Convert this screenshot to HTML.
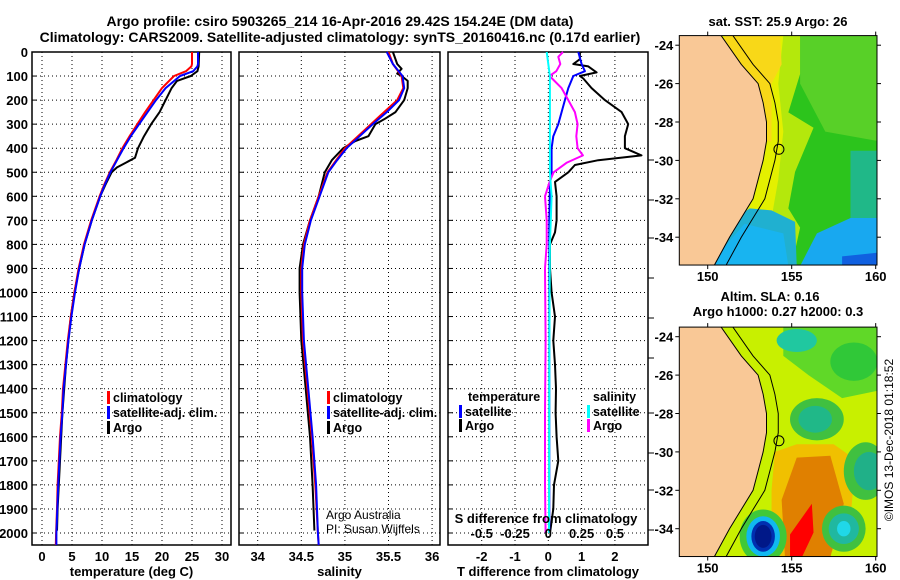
<!DOCTYPE html>
<html><head><meta charset="utf-8">
<style>
html,body{margin:0;padding:0;background:#fff;}
svg{display:block;font-family:"Liberation Sans",Arial,sans-serif;}
.b{font-weight:bold;}
</style></head>
<body>
<svg id="s" width="900" height="580" viewBox="0 0 900 580" xmlns="http://www.w3.org/2000/svg">
<rect width="900" height="580" fill="#fff"/>
<text x="340" y="26" text-anchor="middle" class="b" font-size="14">Argo profile: csiro 5903265_214 16-Apr-2016 29.42S 154.24E (DM data)</text>
<text x="340" y="42" text-anchor="middle" class="b" font-size="14">Climatology: CARS2009. Satellite-adjusted climatology: synTS_20160416.nc (0.17d earlier)</text>
<g id="plots"></g>
<g id="maps"></g>
<text transform="translate(893,440) rotate(-90)" text-anchor="middle" font-size="12">©IMOS 13-Dec-2018 01:18:52</text>
</svg>
<script>
// ---------- data ----------
const depthTicks=[0,100,200,300,400,500,600,700,800,900,1000,1100,1200,1300,1400,1500,1600,1700,1800,1900,2000];
const tempTicks=[0,5,10,15,20,25,30];
const salTicks=[34,34.5,35,35.5,36];
const tdiffTicks=[-2,-1,0,1,2];
const sdiffTicks=[-0.5,-0.25,0,0.25,0.5];
const sdiffTickLabels=["-0.5","-0.25","0","0.25","0.5"];

const tArgoDepth=[0,60,80,100,120,150,200,250,300,350,400,440,460,480,500,550,600,700,800,900,1000,1100,1200,1300,1400,1500,1600,1700,1800,1900,1990];
const tArgo=[26.2,26.1,25.9,24.8,22.5,21.6,20.6,19.6,18.2,17.0,16.0,15.5,14.0,12.5,11.6,10.6,9.7,8.3,7.1,6.2,5.4,4.8,4.4,4.0,3.7,3.4,3.2,3.0,2.8,2.6,2.5];
const tClimDepth=[0,50,60,80,100,150,200,250,300,350,400,450,500,550,600,700,800,900,1000,1100,1200,1300,1400,1500,1600,1700,1800,1900,2000,2050];
const tClim=[25.0,25.0,24.9,24.0,22.0,20.0,18.6,17.2,15.9,14.6,13.4,12.4,11.3,10.4,9.6,8.2,7.0,6.1,5.4,4.8,4.3,3.9,3.5,3.3,3.0,2.8,2.6,2.5,2.35,2.3];
const tSat=[26.0,26.0,25.9,25.2,23.0,20.6,19.0,17.6,16.2,14.8,13.6,12.5,11.4,10.5,9.7,8.3,7.1,6.2,5.5,4.9,4.4,4.0,3.6,3.4,3.1,2.9,2.7,2.55,2.4,2.4];

const sArgoDepth=[0,50,70,90,100,120,150,200,250,280,300,350,370,400,450,500,600,700,800,850,900,1000,1200,1400,1600,1800,1990];
const sArgo=[35.55,35.6,35.65,35.6,35.65,35.72,35.72,35.68,35.58,35.45,35.35,35.27,35.12,34.98,34.85,34.77,34.7,34.6,34.52,34.5,34.48,34.48,34.5,34.55,34.6,34.63,34.65];
const sClimDepth=[0,50,100,150,200,250,300,350,400,450,500,600,700,800,900,1000,1200,1400,1600,1800,2000,2050];
const sClim=[35.5,35.55,35.65,35.67,35.6,35.45,35.3,35.15,35.0,34.9,34.8,34.7,34.6,34.53,34.5,34.5,34.52,34.57,34.62,34.66,34.69,34.7];
const sSat=[35.48,35.55,35.66,35.68,35.62,35.48,35.32,35.17,35.02,34.91,34.81,34.71,34.61,34.54,34.51,34.51,34.53,34.58,34.63,34.67,34.69,34.7];

const dTDepth=[0,30,50,60,85,100,110,150,200,250,300,350,400,430,450,470,500,540,600,700,750,800,900,1000,1100,1200,1300,1400,1500,1600,1700,1800,1900,2000];
const dTArgo=[0.95,0.95,0.75,1.2,1.45,0.95,1.05,1.3,1.7,2.2,2.4,2.3,2.3,2.8,1.5,0.8,0.6,0.2,0.25,0.25,0.2,0.05,0.05,0.1,0.2,0.15,0.2,0.23,0.22,0.25,0.3,0.17,0.15,0.05];
const dTSatDepth=[0,50,80,100,150,200,250,300,350,400,500,550,700,1000,1500,2000];
const dTSat=[0.9,1.0,1.1,0.75,0.6,0.5,0.4,0.3,0.15,0.1,0.1,0.05,0.03,0.03,0.03,0.03];
const dSDepth=[0,20,50,80,100,150,200,250,300,350,400,430,460,500,540,600,700,800,900,1200,1500,1800,2000];
const dSArgo=[0.11,0.075,0.09,0.06,0.01,0.1,0.15,0.2,0.22,0.21,0.22,0.26,0.14,0.04,0.01,-0.025,-0.012,-0.012,-0.025,-0.02,-0.025,-0.025,-0.02];
const dSSatDepth=[0,100,300,500,600,800,1200,2000];
const dSSat=[-0.012,0.012,0.012,0.012,0.025,0.012,0.008,0.005];

// ---------- helpers ----------
const NS="http://www.w3.org/2000/svg";
const plots=document.getElementById('plots');
const maps=document.getElementById('maps');
function mk(tag,attrs,parent,txt){const e=document.createElementNS(NS,tag);for(const k in attrs)e.setAttribute(k,attrs[k]);if(txt!==undefined)e.textContent=txt;(parent||plots).appendChild(e);return e;}
const Y0=52,Y1=545;
function yD(d){return Y0+d*0.2405;}

function panel(name,x0,x1,xf,ticks,labels,xtitle,showDepth){
  const g=mk('g',{},plots);
  
  
  ticks.forEach((t,i)=>{
    const x=xf(t);
    const l=mk('line',{x1:x,x2:x,y1:Y0,y2:Y1,stroke:'#000','stroke-width':1,'stroke-dasharray':'1,3'},g);
    
    
    const tl=mk('text',{x:x,y:561,'text-anchor':'middle','font-size':13,'font-weight':'bold'},g,labels[i]);
    
    
  });
  depthTicks.forEach(d=>{
    const y=yD(d);
    const l=mk('line',{x1:x0,x2:x1,y1:y,y2:y,stroke:'#000','stroke-width':1,'stroke-dasharray':'1,3'},g);
    
    
    mk('line',{x1:x0,x2:x0+5,y1:y,y2:y,stroke:'#000'},g);
    if(showDepth){
      const tl=mk('text',{x:28,y:y+5,'text-anchor':'end','font-size':13,'font-weight':'bold'},g,String(d));
      
      
    }
  });
  const r=mk('rect',{x:x0,y:Y0,width:x1-x0,height:Y1-Y0,fill:'none',stroke:'#000','stroke-width':1.5},g);
  
  
  const t=mk('text',{x:(x0+x1)/2,y:576,'text-anchor':'middle','font-size':13,'font-weight':'bold'},g,xtitle);
  
  
  return g;
}
function line(g,name,xs,ds,xf,color){
  const pts=xs.map((v,i)=>xf(v).toFixed(1)+','+yD(ds[i]).toFixed(1));
  const p=mk('polyline',{points:pts.join(' '),fill:'none',stroke:color,'stroke-width':2,'stroke-linejoin':'round'},g);
  
  
}
function legItem(g,x,y,color,label){
  mk('rect',{x:x,y:y-11,width:3,height:13,fill:color},g);
  const t=mk('text',{x:x+6,y:y,'font-size':12.5,'font-weight':'bold'},g,label);
  
  
}

// Panel 1: temperature
const xT=t=>42+t*6.0;
const g1=panel('temperature-panel',32,231,xT,tempTicks,tempTicks.map(String),'temperature (deg C)',true);
line(g1,'temp-argo-line',tArgo,tArgoDepth,xT,'#000');
line(g1,'temp-climatology-line',tClim,tClimDepth,xT,'#f00');
line(g1,'temp-satellite-line',tSat,tClimDepth,xT,'#00f');
legItem(g1,107,402,'#f00','climatology');
legItem(g1,107,417,'#00f','satellite-adj. clim.');
legItem(g1,107,432,'#000','Argo');

// Panel 2: salinity
const xS=s=>257.7+(s-34)*87.2;
const g2=panel('salinity-panel',239,440,xS,salTicks,salTicks.map(String),'salinity',false);
line(g2,'sal-argo-line',sArgo,sArgoDepth,xS,'#000');
line(g2,'sal-climatology-line',sClim,sClimDepth,xS,'#f00');
line(g2,'sal-satellite-line',sSat,sClimDepth,xS,'#00f');
legItem(g2,327,402,'#f00','climatology');
legItem(g2,327,417,'#00f','satellite-adj. clim.');
legItem(g2,327,432,'#000','Argo');
const a1=mk('text',{x:326,y:519,'font-size':12},g2,'Argo Australia');


const a2=mk('text',{x:326,y:533,'font-size':12},g2,'PI: Susan Wijffels');



// Panel 3: differences
const xDT=v=>548.3+v*33.3;
const xDS=v=>548.3+v*4*33.3;
const g3=panel('difference-panel',448,648,xDT,tdiffTicks,tdiffTicks.map(String),'T difference from climatology',false);
[413,453,490,530,160,200,238,278,318,358].forEach(y=>mk('line',{x1:648,x2:654,y1:y,y2:y,stroke:'#000'},g3));
line(g3,'tdiff-argo-line',dTArgo,dTDepth,xDT,'#000');
line(g3,'tdiff-satellite-line',dTSat,dTSatDepth,xDT,'#00f');
line(g3,'sdiff-argo-line',dSArgo,dSDepth,xDS,'#f0f');
line(g3,'sdiff-satellite-line',dSSat,dSSatDepth,xDS,'#0ff');
const lt=mk('text',{x:468,y:401,'font-size':12.5,'font-weight':'bold'},g3,'temperature');


legItem(g3,459,416,'#00f','satellite');
legItem(g3,459,430,'#000','Argo');
const ls=mk('text',{x:593,y:401,'font-size':12.5,'font-weight':'bold'},g3,'salinity');


legItem(g3,587,416,'#0ff','satellite');
legItem(g3,587,430,'#f0f','Argo');
const st=mk('text',{x:546,y:523,'text-anchor':'middle','font-size':13,'font-weight':'bold'},g3,'S difference from climatology');


sdiffTicks.forEach((v,i)=>{
  const t=mk('text',{x:xDS(v),y:538,'text-anchor':'middle','font-size':13,'font-weight':'bold'},g3,sdiffTickLabels[i]);
  
  
});

// ---------- maps ----------
const mapLats=[-24,-26,-28,-30,-32,-34];
const mapLons=[150,155,160];
const coastLon=[150.8,152.0,153.0,153.3,153.5,153.5,153.3,153.0,152.7,152.0,151.3,150.4];
const coastLat=[-23.5,-25,-26,-27,-28,-29,-30,-31,-32,-33,-34,-35.45];
const MX0=679.3,MX1=877;
const lx=l=>707.7+(l-150)*16.8;
function drawMap(name,top,shapes,titles){
  const g=mk('g',{},maps);
  
  
  const ly=la=>top+(-24-la)*19.2;
  const yT=ly(-23.5),yB=ly(-35.45);
  const cid='clip'+name;
  const cp=mk('clipPath',{id:cid},g);mk('rect',{x:MX0,y:yT,width:MX1-MX0,height:yB-yT},cp);
  const inner=mk('g',{'clip-path':'url(#'+cid+')'},g);
  shapes(inner,lx,ly);
  let pts=[[MX0-5,yT-5]];
  coastLon.forEach((c,i)=>pts.push([lx(c),ly(coastLat[i])]));
  pts.push([MX0-5,yB+5]);
  const land=mk('polygon',{points:pts.map(p=>p.join(',')).join(' '),fill:'#f9c896',stroke:'#000','stroke-width':1},inner);
  
  
  const iso=coastLon.map((c,i)=>lx(c+0.7)+','+ly(coastLat[i])).join(' ');
  mk('polyline',{points:iso,fill:'none',stroke:'#000','stroke-width':1},inner);
  const c=mk('circle',{cx:lx(154.24),cy:ly(-29.42),r:5,fill:'none',stroke:'#000','stroke-width':1},g);
  
  
  mk('rect',{x:MX0,y:yT,width:MX1-MX0,height:yB-yT,fill:'none',stroke:'#000','stroke-width':1},g);
  mapLats.forEach(la=>{
    const y=ly(la);
    mk('line',{x1:MX0-4,x2:MX0,y1:y,y2:y,stroke:'#000'},g);
    mk('line',{x1:MX1,x2:MX1+4,y1:y,y2:y,stroke:'#000'},g);
    const t=mk('text',{x:MX0-6,y:y+5,'text-anchor':'end','font-size':13,'font-weight':'bold'},g,String(la));
    
    
  });
  mapLons.forEach(lo=>{
    const x=lx(lo);
    mk('line',{x1:x,x2:x,y1:yB,y2:yB+4,stroke:'#000'},g);
    mk('line',{x1:x,x2:x,y1:yT-4,y2:yT,stroke:'#000'},g);
    const t=mk('text',{x:x,y:yB+16,'text-anchor':'middle','font-size':13,'font-weight':'bold'},g,String(lo));
    
    
  });
  titles.forEach(tt=>{
    const t=mk('text',{x:tt[0],y:tt[1],'text-anchor':'middle','font-size':13,'font-weight':'bold'},g,tt[2]);
    
    
  });
}
function poly(g,pts,fill,lx,ly){return mk('polygon',{points:pts.map(p=>lx(p[0])+','+ly(p[1])).join(' '),fill:fill},g);}
function ell(g,lo,la,rx,ry,fill,lx,ly){return mk('ellipse',{cx:lx(lo),cy:ly(la),rx:rx*16.8,ry:ry*19.2,fill:fill},g);}

drawMap('sst-map',45.2,(g,lx,ly)=>{
  mk('rect',{x:600,y:0,width:300,height:300,fill:'#2cc41c'},g);
  poly(g,[[155.5,-23.5],[160.2,-23.5],[160.2,-29],[157,-28.5],[155.5,-26]],'#58d028',lx,ly);
  poly(g,[[150,-23.5],[155.5,-23.5],[155.5,-25.5],[154.8,-27.5],[156.3,-28.3],[155.2,-30.6],[154.8,-32.5],[155.5,-33.5],[155,-35.5],[150,-35.5]],'#b4e80c',lx,ly);
  poly(g,[[150,-23.5],[154.5,-23.5],[154.2,-26],[154.5,-28.5],[154.2,-31],[153.8,-33],[150,-33]],'#e4f000',lx,ly);
  poly(g,[[151,-23.5],[154.3,-23.5],[154.4,-25],[153.8,-26],[153.8,-29],[151,-29]],'#f8d818',lx,ly);
  poly(g,[[152.5,-32.5],[153.8,-32.6],[155.2,-33.2],[155.3,-35.5],[150,-35.5],[150,-34]],'#20b0d0',lx,ly);
  poly(g,[[152.2,-33.3],[154.5,-33.8],[154.8,-35.5],[150,-35.5]],'#18b4f0',lx,ly);
  poly(g,[[156.5,-33.8],[158.5,-33],[160.2,-32.8],[160.2,-35.5],[155.5,-35.5]],'#18a8f0',lx,ly);
  poly(g,[[158.5,-29.5],[160.2,-29.5],[160.2,-33],[158.5,-33]],'#20b888',lx,ly);
  poly(g,[[158,-35],[160.2,-34.8],[160.2,-35.5],[158,-35.5]],'#1060e0',lx,ly);
},[[778,26,'sat. SST: 25.9 Argo: 26']]);

drawMap('sla-map',336.7,(g,lx,ly)=>{
  mk('rect',{x:600,y:300,width:300,height:300,fill:'#c8f000'},g);
  poly(g,[[154.5,-23.5],[160.2,-23.5],[160.2,-26.8],[158,-27.2],[156,-26],[154.5,-25]],'#60d828',lx,ly);
  ell(g,155.3,-24.2,1.2,0.6,'#20c8a0',lx,ly);
  ell(g,158.7,-25.3,1.4,1.0,'#30c838',lx,ly);
  ell(g,156.5,-28.3,1.6,1.1,'#40c040',lx,ly);
  ell(g,156.4,-28.3,1.0,0.7,'#20b888',lx,ly);
  poly(g,[[154,-30],[155.3,-29.6],[157.5,-29.6],[158.8,-30.4],[158.5,-33.5],[157.2,-35.5],[153.8,-35.5],[153.8,-32]],'#f0c000',lx,ly);
  poly(g,[[154.6,-35.5],[154.4,-32.5],[155.3,-30.3],[157.3,-30.2],[158.1,-32.7],[157.3,-35.5]],'#e08000',lx,ly);
  poly(g,[[154.9,-35.5],[154.9,-34.3],[156.2,-32.7],[156.3,-34.2],[155.6,-35.5]],'#ff0000',lx,ly);
  ell(g,159.4,-31,1.3,1.5,'#40c040',lx,ly);
  ell(g,159.6,-31,0.9,1.0,'#20b088',lx,ly);
  ell(g,158.1,-34,1.3,1.2,'#40c040',lx,ly);
  ell(g,158.1,-34,0.9,0.8,'#20b8a0',lx,ly);
  ell(g,158.1,-34,0.4,0.4,'#20d8e8',lx,ly);
  ell(g,153.3,-34.4,1.4,1.4,'#40c838',lx,ly);
  ell(g,153.3,-34.4,1.0,1.05,'#10b8f0',lx,ly);
  ell(g,153.3,-34.4,0.7,0.8,'#0030b0',lx,ly);
  ell(g,153.3,-34.4,0.5,0.6,'#001888',lx,ly);
},[[770,301,'Altim. SLA: 0.16'],[778,316,'Argo h1000: 0.27 h2000: 0.3']]);
</script>
</body></html>
